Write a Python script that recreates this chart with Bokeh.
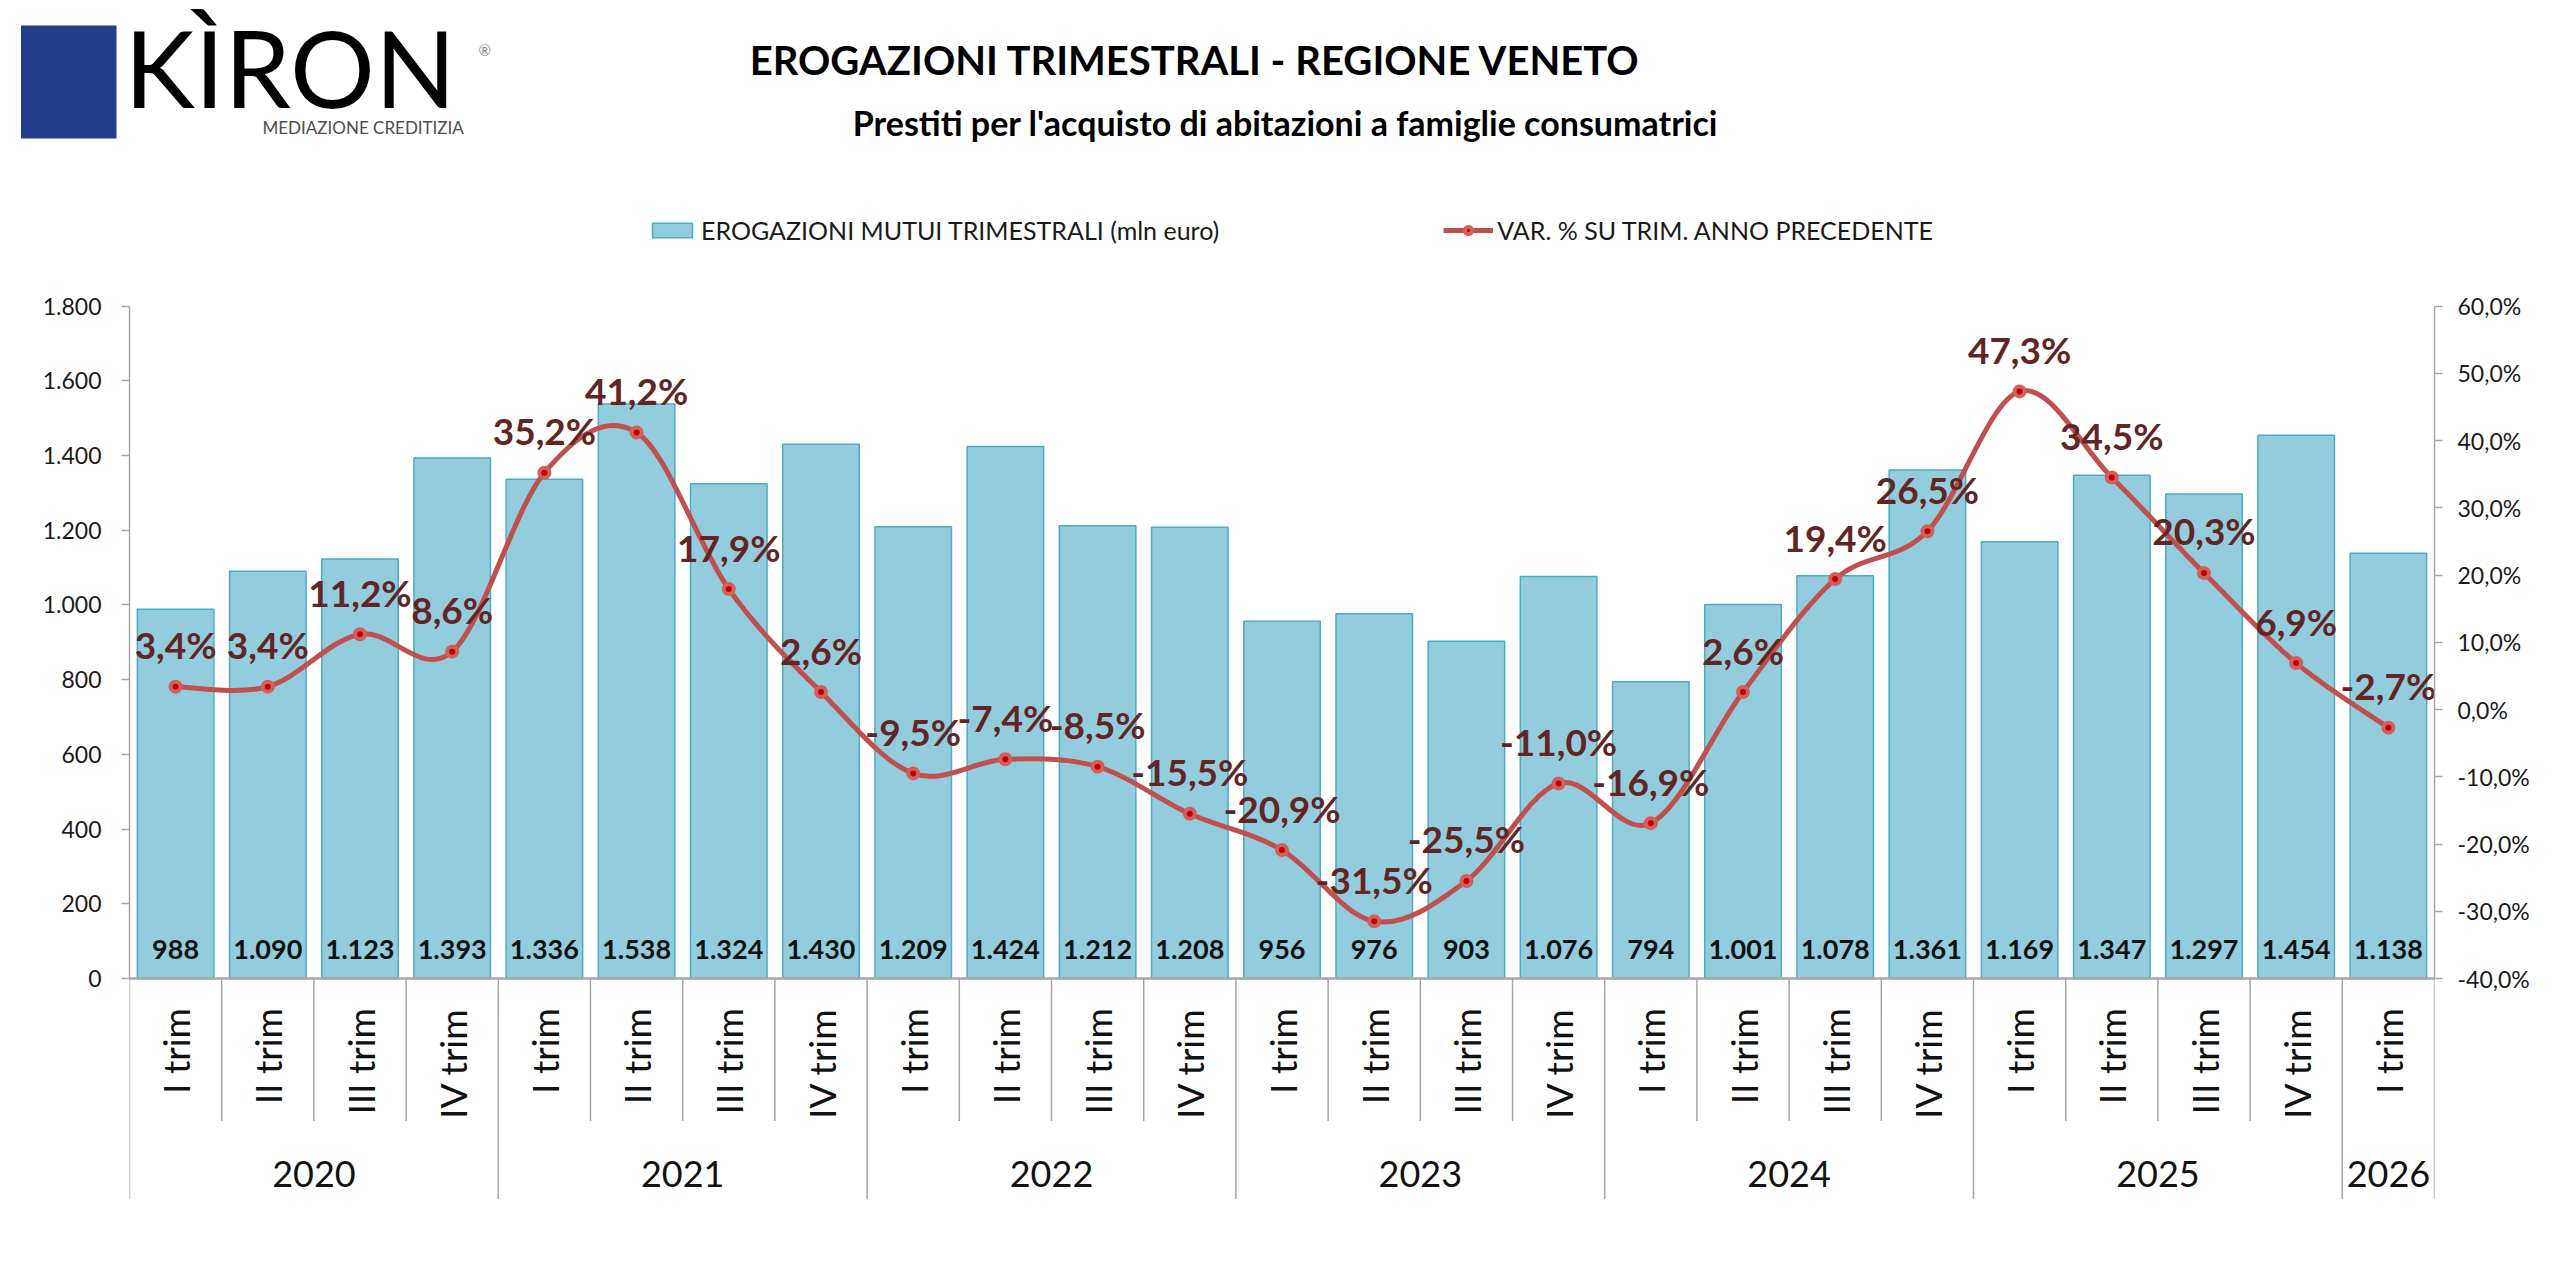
import numpy as np
from bokeh.plotting import figure
from bokeh.models import (Range1d, LinearAxis, FixedTicker, CustomJSTickFormatter, Span,
                          Legend, LegendItem, ColumnDataSource)
from bokeh.core.properties import value
from bokeh.embed import file_html
from bokeh.resources import INLINE

# ---------------- data ----------------
years = ["2020"] * 4 + ["2021"] * 4 + ["2022"] * 4 + ["2023"] * 4 + ["2024"] * 4 + ["2025"] * 4 + ["2026"]
quarters = ["I trim", "II trim", "III trim", "IV trim"] * 6 + ["I trim"]
erogazioni = [988, 1090, 1123, 1393, 1336, 1538, 1324, 1430, 1209, 1424, 1212, 1208,
              956, 976, 903, 1076, 794, 1001, 1078, 1361, 1169, 1347, 1297, 1454, 1138]
var_pct = [3.4, 3.4, 11.2, 8.6, 35.2, 41.2, 17.9, 2.6, -9.5, -7.4, -8.5, -15.5,
           -20.9, -31.5, -25.5, -11.0, -16.9, 2.6, 19.4, 26.5, 47.3, 34.5, 20.3, 6.9, -2.7]
left_ticks = [0, 200, 400, 600, 800, 1000, 1200, 1400, 1600, 1800]
right_ticks = [-40, -30, -20, -10, 0, 10, 20, 30, 40, 50, 60]
title_text = "EROGAZIONI TRIMESTRALI - REGIONE VENETO"
subtitle_text = "Prestiti per l'acquisto di abitazioni a famiglie consumatrici"
bar_series_name = "EROGAZIONI MUTUI TRIMESTRALI (mln euro)"
line_series_name = "VAR. % SU TRIM. ANNO PRECEDENTE"
logo_name = "KÌRON"
logo_tagline = "MEDIAZIONE CREDITIZIA"

# ---------------- layout constants (pixels) ----------------
W = 2544
HH = 190                      # header height
HM = 1072                     # main figure height
FL = 129
FW = 2305
FR = W - FL - FW
TOP_PX = 305.5 - HH           # frame space above the 1.800 line
PLOT_PX = 672.5               # 0 .. 1.800
CAT_PX = 224.0                # category area under the zero line
FH = TOP_PX + PLOT_PX + CAT_PX
FB = HM - int(round(FH))
LEG_BOTTOM = 245.0            # page y of the legend's lower edge

FONT = "Lato"
BAR_FILL = "#93CDDD"
BAR_LINE = "#4BACC6"
LINE_COL = "#C0504D"
LBL_COL = "#632523"
GREY = "#A6A6A6"


def hy(py):
    return HH - py


# ---------------- header (logo + titles) ----------------
hdr = figure(width=W, height=HH, x_range=Range1d(0, W), y_range=Range1d(0, HH),
             output_backend="svg", toolbar_location=None, x_axis_location=None,
             y_axis_location=None, min_border=0)
hdr.outline_line_color = None
hdr.grid.grid_line_color = None

hdr.quad(left=[20.5], right=[116], top=[hy(25)], bottom=[hy(138)],
         fill_color="#233E8C", line_color=None)
hdr.text(x=[124], y=[hy(66)], text=[logo_name], text_align="left", text_baseline="middle",
         text_font=value(FONT), text_font_size="106px", text_color="#000000")
hdr.text(x=[262], y=[hy(127)], text=[logo_tagline], text_align="left", text_baseline="middle",
         text_font=value(FONT), text_font_size="17px", text_color="#4d4d4d")
hdr.text(x=[478], y=[hy(49)], text=["®"], text_align="left", text_baseline="middle",
         text_font=value(FONT), text_font_size="15px", text_color="#888888")
hdr.text(x=[1195], y=[hy(59)], text=[title_text], text_align="center", text_baseline="middle",
         text_font=value(FONT), text_font_style="bold", text_font_size="40px", text_color="#000000")
hdr.text(x=[1285], y=[hy(122)], text=[subtitle_text], text_align="center", text_baseline="middle",
         text_font=value(FONT), text_font_style="bold", text_font_size="34px", text_color="#000000")

# ---------------- main chart ----------------
Y_MIN, Y_MAX = left_ticks[0], left_ticks[-1]
P_MIN, P_MAX = right_ticks[0], right_ticks[-1]
u = (Y_MAX - Y_MIN) / PLOT_PX
pu = (P_MAX - P_MIN) / PLOT_PX

n = len(erogazioni)
idx = list(range(n))

p = figure(width=W, height=HM,
           x_range=Range1d(-0.5, n - 0.5),
           y_range=Range1d(Y_MIN - CAT_PX * u, Y_MAX + TOP_PX * u),
           output_backend="svg", toolbar_location=None,
           x_axis_location=None, y_axis_location=None,
           min_border_left=FL, min_border_right=FR, min_border_top=0, min_border_bottom=FB)
p.extra_y_ranges = {"pct": Range1d(P_MIN - CAT_PX * pu, P_MAX + TOP_PX * pu)}
p.outline_line_color = None
p.grid.grid_line_color = None


def it_num(v):
    return f"{v:,}".replace(",", ".")


def it_pct(v):
    return f"{v:.1f}".replace(".", ",") + "%"


src = ColumnDataSource(dict(
    x=idx, erog=erogazioni, pct=var_pct,
    erog_lbl=[it_num(v) for v in erogazioni],
    pct_lbl=[it_pct(v) for v in var_pct],
    zero=[0] * n,
    quarter=quarters,
    qy=[-29.5 * u] * n,
))

# zero axis line
p.add_layout(Span(location=0, dimension="width", line_color=GREY, line_width=2.5))

# bars
bars = p.vbar(x="x", top="erog", bottom=0, width=0.83, source=src,
              fill_color=BAR_FILL, line_color=BAR_LINE, line_width=1.5)

# bar value labels (inside base)
p.text(x="x", y="zero", text="erog_lbl", source=src, text_align="center",
       text_baseline="middle", y_offset=-29, text_font=value(FONT),
       text_font_style="bold", text_font_size="27px", text_color="#111111")

# smoothed line: cubic Bezier segments through the data points (Catmull-Rom tangents)
bx0, by0, bx1, by1, cx0, cy0, cx1, cy1 = [], [], [], [], [], [], [], []
for i in range(n - 1):
    pr = max(i - 1, 0)
    nx = min(i + 2, n - 1)
    bx0.append(idx[i]); by0.append(var_pct[i])
    bx1.append(idx[i + 1]); by1.append(var_pct[i + 1])
    cx0.append(idx[i] + (idx[i + 1] - idx[pr]) / 6.0)
    cy0.append(var_pct[i] + (var_pct[i + 1] - var_pct[pr]) / 6.0)
    cx1.append(idx[i + 1] - (idx[nx] - idx[i]) / 6.0)
    cy1.append(var_pct[i + 1] - (var_pct[nx] - var_pct[i]) / 6.0)
bez_src = ColumnDataSource(dict(x0=bx0, y0=by0, x1=bx1, y1=by1, cx0=cx0, cy0=cy0, cx1=cx1, cy1=cy1))
line = p.bezier(x0="x0", y0="y0", x1="x1", y1="y1", cx0="cx0", cy0="cy0", cx1="cx1", cy1="cy1",
                source=bez_src, y_range_name="pct", line_color=LINE_COL, line_width=5)
markers = p.scatter(x="x", y="pct", source=src, y_range_name="pct", marker="circle", size=10,
                    fill_color="#C00000", line_color="#D35F5B", line_width=4)

# point labels
p.text(x="x", y="pct", text="pct_lbl", source=src, y_range_name="pct", text_align="center",
       text_baseline="middle", y_offset=-42, text_font=value(FONT), text_font_style="bold",
       text_font_size="37px", text_color=LBL_COL)

# quarter labels, rotated
p.text(x="x", y="qy", text="quarter", source=src, angle=np.pi / 2, text_align="right",
       text_baseline="middle", text_font=value(FONT), text_font_size="37px", text_color="#111111")

# year labels
year_names, year_centers = [], []
for yname in dict.fromkeys(years):
    members = [i for i, yy in enumerate(years) if yy == yname]
    year_names.append(yname)
    year_centers.append(sum(members) / len(members))
p.text(x=year_centers, y=[-195.5 * u] * len(year_names), text=year_names, text_align="center",
       text_baseline="middle", text_font=value(FONT), text_font_size="36px", text_color="#111111")

# category separators
sep_x, sep_y1 = [], []
for k in range(n + 1):
    long_sep = k == 0 or k == n or years[k] != years[k - 1]
    sep_x.append(k - 0.5)
    sep_y1.append(-220.5 * u if long_sep else -142.5 * u)
p.segment(x0=sep_x, y0=[0] * len(sep_x), x1=sep_x, y1=sep_y1, line_color=GREY, line_width=1.5)

# axes
left_axis = LinearAxis(ticker=FixedTicker(ticks=left_ticks), bounds=(Y_MIN, Y_MAX),
                       formatter=CustomJSTickFormatter(code=r"return tick.toString().replace(/\B(?=(\d{3})+(?!\d))/g, '.');"))
right_axis = LinearAxis(y_range_name="pct", ticker=FixedTicker(ticks=right_ticks), bounds=(P_MIN, P_MAX),
                        formatter=CustomJSTickFormatter(code="return tick.toFixed(1).replace('.', ',') + '%';"))
for ax, standoff in ((left_axis, 20), (right_axis, 15)):
    ax.axis_line_color = GREY
    ax.axis_line_width = 1.5
    ax.major_tick_line_color = GREY
    ax.major_tick_line_width = 1.5
    ax.major_tick_in = 0
    ax.major_tick_out = 8
    ax.minor_tick_line_color = None
    ax.major_label_standoff = standoff
    ax.major_label_text_font = FONT
    ax.major_label_text_font_size = "23px"
    ax.major_label_text_color = "#1a1a1a"
p.add_layout(left_axis, "left")
p.add_layout(right_axis, "right")

# legend (inside the top part of the frame)
legend = Legend(items=[LegendItem(label=bar_series_name, renderers=[bars]),
                       LegendItem(label=line_series_name, renderers=[line, markers])],
                orientation="horizontal", location=(518, FH - (LEG_BOTTOM - HH)),
                glyph_width=50, glyph_height=18, label_standoff=4, spacing=224,
                padding=0, margin=0, border_line_color=None, background_fill_alpha=0,
                label_text_font=FONT, label_text_font_size="25px", label_text_color="#1a1a1a")
p.add_layout(legend, "center")

open("out.html", "w").write(file_html([hdr, p], INLINE))
